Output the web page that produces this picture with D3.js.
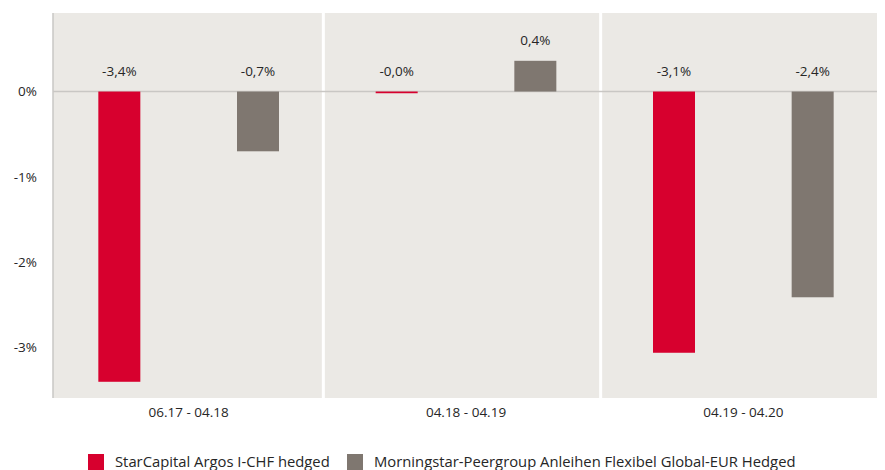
<!DOCTYPE html>
<html>
<head>
<meta charset="utf-8">
<script src="https://cdn.jsdelivr.net/npm/d3@7"></script>
<style>
  body { margin: 0; background: #fff; }
  text { font-family: "Open Sans", "Noto Sans", sans-serif; fill: #262626; }
</style>
</head>
<body>
<svg id="container"></svg>
<script>
const width = 885;
const height = 470;

// data (in %)
const periods = ["06.17 - 04.18", "04.18 - 04.19", "04.19 - 04.20"];
const seriesNames = ["StarCapital Argos I-CHF hedged", "Morningstar-Peergroup Anleihen Flexibel Global-EUR Hedged"];
const starCapital = [-3.4, -0.02, -3.06];
const peergroup = [-0.7, 0.36, -2.41];
const yTicks = [0, -1, -2, -3];

const colors = ["#d7002e", "#7f7770"];
const plot = {left: 53, right: 877, top: 13, bottom: 398};

var data = periods.map((p, i) => ({
    period: p,
    values: [starCapital[i], peergroup[i]]
}));

var x = d3.scaleBand()
    .domain(periods)
    .range([50, 882]);

var xInner = d3.scaleBand()
    .domain(d3.range(seriesNames.length))
    .range([0, x.bandwidth()]);

var y = d3.scaleLinear()
    .domain([-3.59, 0.92])
    .range([plot.bottom, plot.top]);

// keep the minus sign on values that round to zero (-0,0%)
var fmt = v => (v < 0 ? "-" : "") + d3.format(".1f")(Math.abs(v)).replace(".", ",") + "%";

const svg = d3.select("#container")
    .attr("width", width)
    .attr("height", height);

// plot background
svg.append("rect")
    .attr("x", plot.left)
    .attr("y", plot.top)
    .attr("width", plot.right - plot.left)
    .attr("height", plot.bottom - plot.top)
    .attr("fill", "#ebe9e5");

// white separators between periods
svg.append("g")
    .selectAll("line")
    .data(periods.slice(1))
    .join("line")
    .attr("x1", d => x(d) - 4)
    .attr("x2", d => x(d) - 4)
    .attr("y1", plot.top)
    .attr("y2", plot.bottom)
    .attr("stroke", "#fff")
    .attr("stroke-width", 3);

// zero line
svg.append("line")
    .attr("x1", plot.left)
    .attr("x2", plot.right)
    .attr("y1", y(0))
    .attr("y2", y(0))
    .attr("stroke", "#c9c7c4")
    .attr("stroke-width", 1.5);

// left axis line
svg.append("line")
    .attr("x1", plot.left)
    .attr("x2", plot.left)
    .attr("y1", plot.top)
    .attr("y2", plot.bottom)
    .attr("stroke", "#c9c7c4")
    .attr("stroke-width", 1.5);

// y axis
svg.append("g")
    .attr("transform", `translate(${plot.left},0)`)
    .call(d3.axisLeft(y)
        .tickValues(yTicks)
        .tickSize(0)
        .tickPadding(16)
        .tickFormat(d => (d < 0 ? "-" : "") + Math.abs(d) + "%"))
    .call(g => g.select(".domain").remove())
    .call(g => g.selectAll("text")
        .attr("font-size", 13.5)
        .attr("fill", "#262626")
        .style("font-family", "'Open Sans', sans-serif"));

// x axis labels
svg.append("g")
    .attr("transform", `translate(0,${plot.bottom})`)
    .call(d3.axisBottom(x).tickSize(0).tickPadding(9))
    .call(g => g.select(".domain").remove())
    .call(g => g.selectAll("text")
        .attr("font-size", 13.5)
        .attr("fill", "#262626")
        .style("font-family", "'Open Sans', sans-serif"));

// bars
const groups = svg.append("g")
    .selectAll("g")
    .data(data)
    .join("g")
    .attr("transform", d => `translate(${x(d.period)},0)`);

const barW = 42;

groups.selectAll("rect")
    .data(d => d.values)
    .join("rect")
    .attr("x", (v, i) => xInner(i) + xInner.bandwidth() / 2 - barW / 2)
    .attr("y", v => Math.min(y(0), y(v)))
    .attr("width", barW)
    .attr("height", v => Math.abs(y(v) - y(0)))
    .attr("fill", (v, i) => colors[i]);

groups.selectAll("text")
    .data(d => d.values)
    .join("text")
    .attr("x", (v, i) => xInner(i) + xInner.bandwidth() / 2)
    .attr("y", v => Math.min(y(0), y(v)) - 16)
    .attr("text-anchor", "middle")
    .attr("font-size", 13.5)
    .text(v => fmt(v));

// legend
const legendX = [88, 347];
const legend = svg.append("g")
    .selectAll("g")
    .data(seriesNames)
    .join("g")
    .attr("transform", (d, i) => `translate(${legendX[i]},454)`);

legend.append("rect")
    .attr("width", 16)
    .attr("height", 16)
    .attr("fill", (d, i) => colors[i]);

legend.append("text")
    .attr("x", 27)
    .attr("y", 13)
    .attr("font-size", 14.8)
    .text(d => d);
</script>
</body>
</html>
